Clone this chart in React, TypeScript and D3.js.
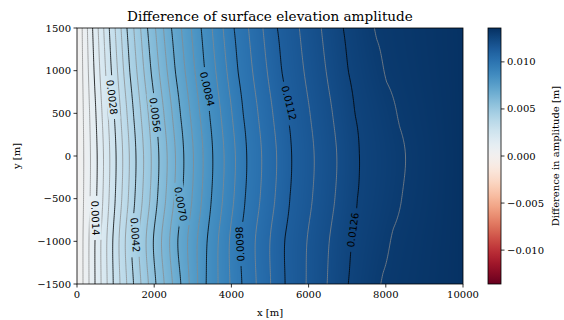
import React, { useMemo } from "react";
import * as d3 from "d3";

const levels = [0, 0.0014, 0.0028, 0.0042, 0.0056, 0.007, 0.0084, 0.0098, 0.0112, 0.0126, 0.0131, 0.0135];

// x position [m] of each level along rows y = 1500, 1000, ..., -1500
const rowY = [1500, 1000, 500, 0, -500, -1000, -1500];
const xAt1500 = [0, 404, 836, 1294, 1826, 2447, 3216, 4069, 5190, 6897, 7761, 10000];
const xAt1000 = [0, 441, 890, 1366, 1917, 2546, 3309, 4170, 5304, 7027, 8019, 10000];
const xAt500 = [0, 490, 963, 1462, 2038, 2677, 3433, 4305, 5456, 7199, 8364, 10000];
const xAt0 = [0, 523, 1012, 1527, 2120, 2766, 3517, 4396, 5559, 7316, 8596, 10000];
const xAtM500 = [0, 509, 990, 1498, 2084, 2727, 3480, 4356, 5513, 7264, 8493, 10000];
const xAtM1000 = [0, 466, 927, 1414, 1978, 2612, 3371, 4238, 5380, 7113, 8192, 10000];
const xAtM1500 = [0, 466, 939, 1464, 2044, 2690, 3345, 4270, 5390, 7026, 7930, 10000];
const rows = [xAt1500, xAt1000, xAt500, xAt0, xAtM500, xAtM1000, xAtM1500];

const lineStep = 0.0014 / 3;
const lineCount = 28;

const contourLabels = [
  { text: "0.0014", x: 473, y: -727, angle: 88 },
  { text: "0.0028", x: 905, y: 688, angle: 83 },
  { text: "0.0042", x: 1508, y: -926, angle: 86 },
  { text: "0.0056", x: 2026, y: 480, angle: 83 },
  { text: "0.0070", x: 2685, y: -563, angle: 80 },
  { text: "0.0084", x: 3371, y: 785, angle: 77 },
  { text: "0.0098", x: 4225, y: -1032, angle: -93 },
  { text: "0.0112", x: 5492, y: 621, angle: 76 },
  { text: "0.0126", x: 7148, y: -867, angle: -82 },
];

const xTicks = [0, 2000, 4000, 6000, 8000, 10000];
const xTickLabels = ["0", "2000", "4000", "6000", "8000", "10000"];
const yTicks = [1500, 1000, 500, 0, -500, -1000, -1500];
const yTickLabels = ["1500", "1000", "500", "0", "−500", "−1000", "−1500"];
const cbTicks = [0.01, 0.005, 0, -0.005, -0.01];
const cbTickLabels = ["0.010", "0.005", "0.000", "−0.005", "−0.010"];
const vmax = 0.0136;

const W = 564;
const H = 320;
const plot = { left: 77, right: 463, top: 28, bottom: 284 };
const cb = { left: 488, right: 501 };
const serif = "DejaVu Serif, serif";

const rowScales = rows.map((xs) => d3.scaleLinear().domain(xs).range(levels).clamp(true));

function catmull(p0: number, p1: number, p2: number, p3: number, t: number) {
  return 0.5 * (2 * p1 + (-p0 + p2) * t + (2 * p0 - 5 * p1 + 4 * p2 - p3) * t * t + (-p0 + 3 * p1 - 3 * p2 + p3) * t * t * t);
}

// value at (x, y) from the column of row values
function fromColumn(col: number[], y: number) {
  const n = col.length;
  let r = (rowY[0] - y) / (rowY[0] - rowY[1]);
  r = Math.max(0, Math.min(n - 1, r));
  const k = Math.min(n - 2, Math.floor(r));
  const t = r - k;
  const p1 = col[k];
  const p2 = col[k + 1];
  const p0 = k > 0 ? col[k - 1] : 2 * p1 - p2;
  const p3 = k + 2 < n ? col[k + 2] : 2 * p2 - p1;
  return catmull(p0, p1, p2, p3, t);
}

export default function App() {
  const x = d3.scaleLinear().domain([0, 10000]).range([plot.left, plot.right]);
  const y = d3.scaleLinear().domain([-1500, 1500]).range([plot.bottom, plot.top]);
  const cbY = d3.scaleLinear().domain([-vmax, vmax]).range([plot.bottom, plot.top]);
  const color = (v: number) => d3.interpolateRdBu((v + vmax) / (2 * vmax));

  const image = useMemo(() => {
    const w = plot.right - plot.left;
    const h = plot.bottom - plot.top;
    const canvas = document.createElement("canvas");
    canvas.width = w;
    canvas.height = h;
    const ctx = canvas.getContext("2d")!;
    const img = ctx.createImageData(w, h);
    for (let i = 0; i < w; i++) {
      const xv = x.invert(plot.left + i + 0.5);
      const col = rowScales.map((s) => s(xv));
      for (let j = 0; j < h; j++) {
        const yv = y.invert(plot.top + j + 0.5);
        const c = d3.rgb(color(fromColumn(col, yv)));
        const o = (j * w + i) * 4;
        img.data[o] = c.r;
        img.data[o + 1] = c.g;
        img.data[o + 2] = c.b;
        img.data[o + 3] = 255;
      }
    }
    ctx.putImageData(img, 0, 0);
    return canvas.toDataURL();
  }, []);

  const contourPaths = useMemo(() => {
    const nx = 420;
    const ny = 140;
    const x0 = -300, x1 = 10300, y0 = 1650, y1 = -1650;
    const gx = (i: number) => x0 + (i * (x1 - x0)) / (nx - 1);
    const gy = (j: number) => y0 + (j * (y1 - y0)) / (ny - 1);
    const values = new Array(nx * ny);
    for (let i = 0; i < nx; i++) {
      const col = rowScales.map((s) => s(gx(i)));
      for (let j = 0; j < ny; j++) values[j * nx + i] = fromColumn(col, gy(j));
    }
    const thresholds = d3.range(1, lineCount + 1).map((k) => k * lineStep);
    const contours = d3.contours().size([nx, ny]).thresholds(thresholds)(values);
    const path = d3.geoPath(
      d3.geoTransform({
        point(px: number, py: number) {
          (this as any).stream.point(x(gx(px - 0.5)), y(gy(py - 0.5)));
        },
      })
    );
    return contours.map((c, k) => ({ d: path(c as any) || "", major: (k + 1) % 3 === 0 }));
  }, []);

  const cbStops = d3.range(0, 1.0001, 0.02);

  return (
    <svg width={W} height={H} style={{ position: "absolute", left: 0, top: 0, background: "#fff" }}>
      <defs>
        <clipPath id="plotClip">
          <rect x={plot.left} y={plot.top} width={plot.right - plot.left} height={plot.bottom - plot.top} />
        </clipPath>
        <mask id="labelMask" maskUnits="userSpaceOnUse" x={0} y={0} width={W} height={H}>
          <rect x={0} y={0} width={W} height={H} fill="#fff" />
          {contourLabels.map((l) => (
            <rect
              key={l.text}
              x={-22}
              y={-6}
              width={44}
              height={12}
              fill="#000"
              transform={`translate(${x(l.x)},${y(l.y)}) rotate(${l.angle})`}
            />
          ))}
        </mask>
        <linearGradient id="cbGrad" x1="0" y1="1" x2="0" y2="0">
          {cbStops.map((t) => (
            <stop key={t} offset={t} stopColor={d3.interpolateRdBu(t)} />
          ))}
        </linearGradient>
      </defs>

      <text x={(plot.left + plot.right) / 2} y={21} textAnchor="middle" fontFamily={serif} fontSize={13.6}>
        Difference of surface elevation amplitude
      </text>

      <image
        href={image}
        x={plot.left}
        y={plot.top}
        width={plot.right - plot.left}
        height={plot.bottom - plot.top}
        preserveAspectRatio="none"
      />

      <g clipPath="url(#plotClip)">
        <g mask="url(#labelMask)" fill="none">
          {contourPaths
            .filter((c) => !c.major)
            .map((c, i) => (
              <path key={"g" + i} d={c.d} stroke="#8a8a8a" strokeWidth={0.75} />
            ))}
          {contourPaths
            .filter((c) => c.major)
            .map((c, i) => (
              <path key={"b" + i} d={c.d} stroke="#000" strokeWidth={0.8} />
            ))}
        </g>
      </g>

      {contourLabels.map((l) => (
        <text
          key={l.text}
          transform={`translate(${x(l.x)},${y(l.y)}) rotate(${l.angle})`}
          textAnchor="middle"
          dominantBaseline="central"
          fontFamily="DejaVu Sans, sans-serif"
          fontSize={10}
          fill="#000"
        >
          {l.text}
        </text>
      ))}

      <rect
        x={plot.left}
        y={plot.top}
        width={plot.right - plot.left}
        height={plot.bottom - plot.top}
        fill="none"
        stroke="#000"
        strokeWidth={0.8}
      />

      {xTicks.map((t, i) => (
        <g key={"xt" + t} transform={`translate(${x(t)},${plot.bottom})`}>
          <line y2={3.5} stroke="#000" strokeWidth={0.8} />
          <text y={14} textAnchor="middle" fontFamily={serif} fontSize={10}>
            {xTickLabels[i]}
          </text>
        </g>
      ))}
      <text x={(plot.left + plot.right) / 2} y={316} textAnchor="middle" fontFamily={serif} fontSize={10}>
        x [m]
      </text>

      {yTicks.map((t, i) => (
        <g key={"yt" + t} transform={`translate(${plot.left},${y(t)})`}>
          <line x2={-3.5} stroke="#000" strokeWidth={0.8} />
          <text x={-6} dy="0.35em" textAnchor="end" fontFamily={serif} fontSize={10}>
            {yTickLabels[i]}
          </text>
        </g>
      ))}
      <text
        transform={`translate(20,${(plot.top + plot.bottom) / 2}) rotate(-90)`}
        textAnchor="middle"
        fontFamily={serif}
        fontSize={10}
      >
        y [m]
      </text>

      <rect
        x={cb.left}
        y={plot.top}
        width={cb.right - cb.left}
        height={plot.bottom - plot.top}
        fill="url(#cbGrad)"
        stroke="#000"
        strokeWidth={0.8}
      />
      {cbTicks.map((t, i) => (
        <g key={"cb" + t} transform={`translate(${cb.right},${cbY(t)})`}>
          <line x2={3.5} stroke="#000" strokeWidth={0.8} />
          <text x={6} dy="0.35em" fontFamily={serif} fontSize={10}>
            {cbTickLabels[i]}
          </text>
        </g>
      ))}
      <text
        transform={`translate(559,${(plot.top + plot.bottom) / 2}) rotate(-90)`}
        textAnchor="middle"
        fontFamily={serif}
        fontSize={10}
      >
        Difference in amplitude [m]
      </text>
    </svg>
  );
}
